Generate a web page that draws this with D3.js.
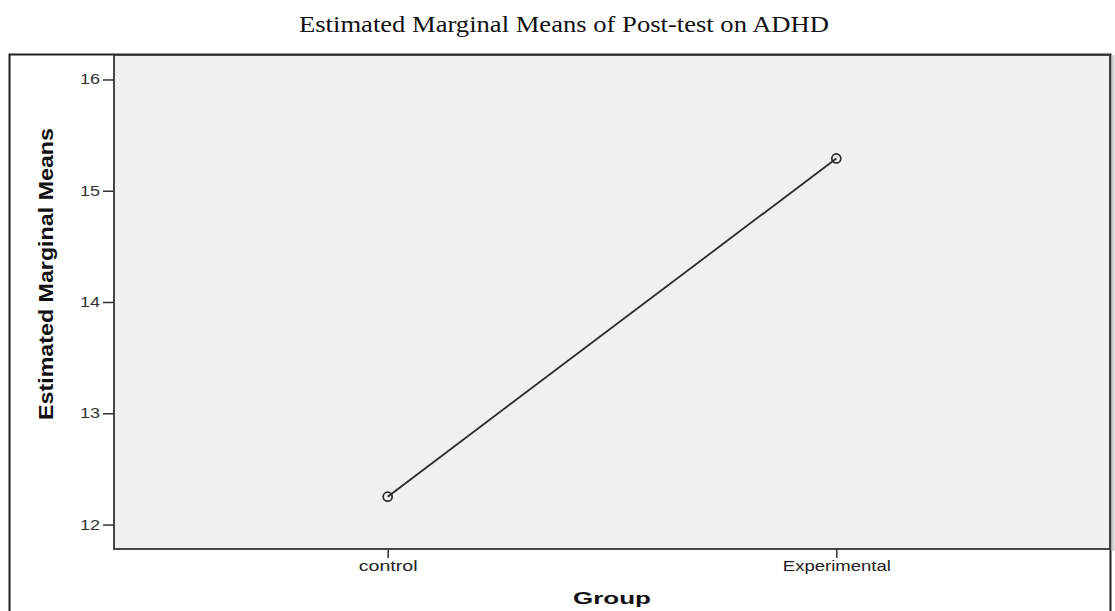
<!DOCTYPE html>
<html>
<head>
<meta charset="utf-8">
<script src="https://cdn.jsdelivr.net/npm/d3@7"></script>
<style>
  body { margin: 0; background: #fff; }
  svg { display: block; }
</style>
</head>
<body>
<svg id="chart" width="1115" height="611"></svg>
<script>
// Estimated marginal means of the post-test, per group
const groups = ["control", "Experimental"];
const means = [12.25, 15.29];
const yTicks = [12, 13, 14, 15, 16];

const plot = { left: 114, right: 1110, top: 55, bottom: 549 };

const svg = d3.select("#chart");

// title above the frame
svg.append("text")
    .attr("x", 564)
    .attr("y", 32)
    .attr("text-anchor", "middle")
    .attr("font-family", "'Liberation Serif', 'Times New Roman', serif")
    .attr("font-size", 23)
    .attr("fill", "#111")
    .attr("textLength", 530)
    .attr("lengthAdjust", "spacingAndGlyphs")
    .text("Estimated Marginal Means of Post-test on ADHD");

// outer frame (runs past the bottom of the picture)
svg.append("rect")
    .attr("x", 9.5)
    .attr("y", 54.5)
    .attr("width", 1101)
    .attr("height", 600)
    .attr("fill", "none")
    .attr("stroke", "#222")
    .attr("stroke-width", 2);

// light shadow on the right
svg.append("rect")
    .attr("x", 1111.5)
    .attr("y", 55)
    .attr("width", 3)
    .attr("height", plot.bottom - 55 + 2)
    .attr("fill", "#cfcfcf");

const x = d3.scalePoint()
    .domain(groups)
    .range([plot.left, plot.right])
    .padding(0.61);

const y = d3.scaleLinear()
    .domain([11.78, 16.22])
    .range([plot.bottom, plot.top]);

// plot background
svg.append("rect")
    .attr("x", plot.left)
    .attr("y", plot.top)
    .attr("width", plot.right - plot.left)
    .attr("height", plot.bottom - plot.top)
    .attr("fill", "#f0f0f0")
    .attr("stroke", "#333")
    .attr("stroke-width", 1.8);

// y axis
const yAxis = svg.append("g")
    .attr("transform", `translate(${plot.left},0)`)
    .call(d3.axisLeft(y).tickValues(yTicks).tickSize(11).tickPadding(3).tickFormat(d3.format("d")));
yAxis.select(".domain").remove();
yAxis.selectAll(".tick line").attr("stroke", "#333").attr("stroke-width", 1.5);
yAxis.selectAll(".tick text")
    .attr("font-family", "'Liberation Sans', Arial, sans-serif")
    .attr("font-size", 14)
    .attr("fill", "#333")
    .attr("textLength", 20)
    .attr("lengthAdjust", "spacingAndGlyphs");

// x axis
const xAxis = svg.append("g")
    .attr("transform", `translate(0,${plot.bottom})`)
    .call(d3.axisBottom(x).tickSize(9).tickPadding(3));
xAxis.select(".domain").remove();
xAxis.selectAll(".tick line").attr("stroke", "#333").attr("stroke-width", 1.5);
xAxis.selectAll(".tick text")
    .attr("font-family", "'Liberation Sans', Arial, sans-serif")
    .attr("font-size", 14)
    .attr("fill", "#222")
    .attr("textLength", d => d === "control" ? 59 : 108)
    .attr("lengthAdjust", "spacingAndGlyphs");

// axis titles
svg.append("text")
    .attr("x", (plot.left + plot.right) / 2)
    .attr("y", 604)
    .attr("text-anchor", "middle")
    .attr("font-family", "'Liberation Sans', Arial, sans-serif")
    .attr("font-weight", "bold")
    .attr("font-size", 17)
    .attr("fill", "#111")
    .attr("textLength", 78)
    .attr("lengthAdjust", "spacingAndGlyphs")
    .text("Group");

svg.append("text")
    .attr("transform", `translate(53,274) rotate(-90)`)
    .attr("text-anchor", "middle")
    .attr("font-family", "'Liberation Sans Narrow', 'Liberation Sans', Arial, sans-serif")
    .attr("font-weight", "bold")
    .attr("font-size", 20)
    .attr("fill", "#111")
    .attr("textLength", 292)
    .attr("lengthAdjust", "spacingAndGlyphs")
    .text("Estimated Marginal Means");

// line and markers
const pts = groups.map((g, i) => ({ g, v: means[i] }));

svg.append("path")
    .datum(pts)
    .attr("fill", "none")
    .attr("stroke", "#2a2a2a")
    .attr("stroke-width", 1.8)
    .attr("d", d3.line().x(d => x(d.g)).y(d => y(d.v)));

svg.selectAll(".marker")
    .data(pts)
    .enter()
    .append("circle")
    .attr("class", "marker")
    .attr("cx", d => x(d.g))
    .attr("cy", d => y(d.v))
    .attr("r", 4.5)
    .attr("fill", "none")
    .attr("stroke", "#2a2a2a")
    .attr("stroke-width", 1.7);
</script>
</body>
</html>
